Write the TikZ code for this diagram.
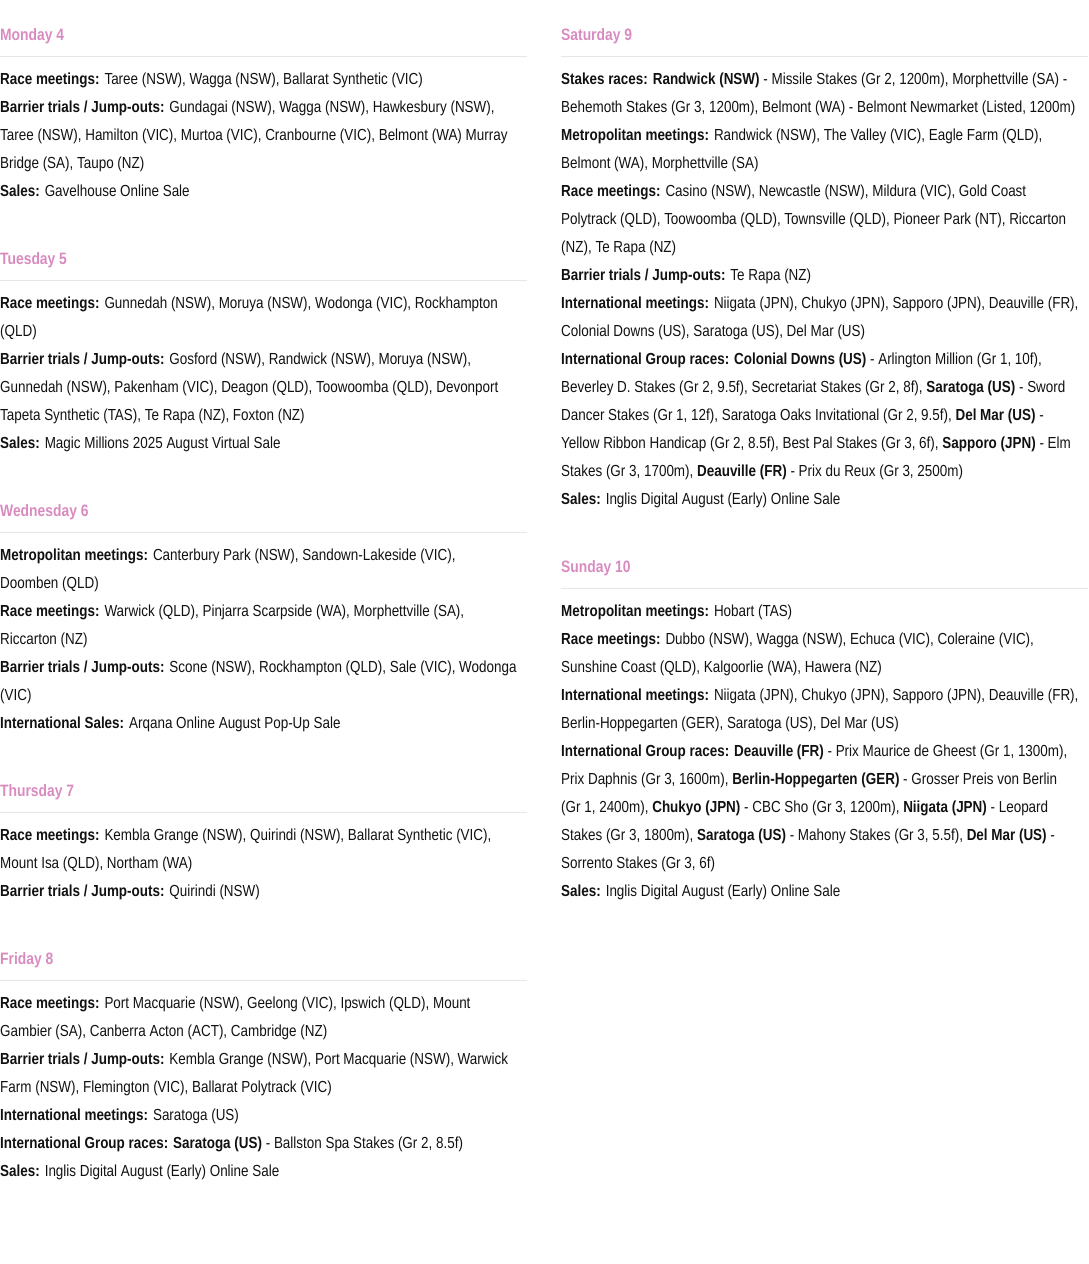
\documentclass[tikz,border=0pt]{standalone}
\usepackage{fontspec}
\setmainfont{Liberation Sans}[FakeStretch=0.84]
\definecolor{pink}{HTML}{D98BC0}
\definecolor{txt}{HTML}{111111}
\definecolor{rule}{HTML}{E6E6E6}
\newcounter{ln}
\newcommand{\Ln}[3]{\stepcounter{ln}\node[line] (l\theln) at (#1,#2) {#3};}
\newcommand{\Hd}[3]{\stepcounter{ln}\node[head] (l\theln) at (#1,#2) {#3};}
\newcommand{\B}[1]{{\bfseries #1}}
\begin{document}
\begin{tikzpicture}[x=1pt,y=-1pt,
  line/.style={anchor=base west,inner sep=0pt,font=\fontsize{16}{18}\selectfont,text=txt},
  head/.style={anchor=base west,inner sep=0pt,font=\fontsize{16.5}{18}\selectfont\bfseries,text=pink},
  sep/.style={draw=rule,line width=0.8pt}]
\useasboundingbox (0,0) rectangle (1088,1264);
\draw[sep] (0,56)--(527,56); \draw[sep] (0,280)--(527,280); \draw[sep] (0,532)--(527,532);
\draw[sep] (0,812)--(527,812); \draw[sep] (0,980)--(527,980);
\draw[sep] (561,56)--(1088,56); \draw[sep] (561,588)--(1088,588);
% Monday
\Hd{0}{40}{Monday 4}
\Ln{0}{84}{\B{Race meetings:} Taree (NSW), Wagga (NSW), Ballarat Synthetic (VIC)}
\Ln{0}{112}{\B{Barrier trials / Jump-outs:} Gundagai (NSW), Wagga (NSW), Hawkesbury (NSW),}
\Ln{0}{140}{Taree (NSW), Hamilton (VIC), Murtoa (VIC), Cranbourne (VIC), Belmont (WA) Murray}
\Ln{0}{168}{Bridge (SA), Taupo (NZ)}
\Ln{0}{196}{\B{Sales:} Gavelhouse Online Sale}
% Tuesday
\Hd{0}{264}{Tuesday 5}
\Ln{0}{308}{\B{Race meetings:} Gunnedah (NSW), Moruya (NSW), Wodonga (VIC), Rockhampton}
\Ln{0}{336}{(QLD)}
\Ln{0}{364}{\B{Barrier trials / Jump-outs:} Gosford (NSW), Randwick (NSW), Moruya (NSW),}
\Ln{0}{392}{Gunnedah (NSW), Pakenham (VIC), Deagon (QLD), Toowoomba (QLD), Devonport}
\Ln{0}{420}{Tapeta Synthetic (TAS), Te Rapa (NZ), Foxton (NZ)}
\Ln{0}{448}{\B{Sales:} Magic Millions 2025 August Virtual Sale}
% Wednesday
\Hd{0}{516}{Wednesday 6}
\Ln{0}{560}{\B{Metropolitan meetings:} Canterbury Park (NSW), Sandown-Lakeside (VIC),}
\Ln{0}{588}{Doomben (QLD)}
\Ln{0}{616}{\B{Race meetings:} Warwick (QLD), Pinjarra Scarpside (WA), Morphettville (SA),}
\Ln{0}{644}{Riccarton (NZ)}
\Ln{0}{672}{\B{Barrier trials / Jump-outs:} Scone (NSW), Rockhampton (QLD), Sale (VIC), Wodonga}
\Ln{0}{700}{(VIC)}
\Ln{0}{728}{\B{International Sales:} Arqana Online August Pop-Up Sale}
% Thursday
\Hd{0}{796}{Thursday 7}
\Ln{0}{840}{\B{Race meetings:} Kembla Grange (NSW), Quirindi (NSW), Ballarat Synthetic (VIC),}
\Ln{0}{868}{Mount Isa (QLD), Northam (WA)}
\Ln{0}{896}{\B{Barrier trials / Jump-outs:} Quirindi (NSW)}
% Friday
\Hd{0}{964}{Friday 8}
\Ln{0}{1008}{\B{Race meetings:} Port Macquarie (NSW), Geelong (VIC), Ipswich (QLD), Mount}
\Ln{0}{1036}{Gambier (SA), Canberra Acton (ACT), Cambridge (NZ)}
\Ln{0}{1064}{\B{Barrier trials / Jump-outs:} Kembla Grange (NSW), Port Macquarie (NSW), Warwick}
\Ln{0}{1092}{Farm (NSW), Flemington (VIC), Ballarat Polytrack (VIC)}
\Ln{0}{1120}{\B{International meetings:} Saratoga (US)}
\Ln{0}{1148}{\B{International Group races: Saratoga (US)} - Ballston Spa Stakes (Gr 2, 8.5f)}
\Ln{0}{1176}{\B{Sales:} Inglis Digital August (Early) Online Sale}
% Saturday
\Hd{561}{40}{Saturday 9}
\Ln{561}{84}{\B{Stakes races: Randwick (NSW)} - Missile Stakes (Gr 2, 1200m), Morphettville (SA) -}
\Ln{561}{112}{Behemoth Stakes (Gr 3, 1200m), Belmont (WA) - Belmont Newmarket (Listed, 1200m)}
\Ln{561}{140}{\B{Metropolitan meetings:} Randwick (NSW), The Valley (VIC), Eagle Farm (QLD),}
\Ln{561}{168}{Belmont (WA), Morphettville (SA)}
\Ln{561}{196}{\B{Race meetings:} Casino (NSW), Newcastle (NSW), Mildura (VIC), Gold Coast}
\Ln{561}{224}{Polytrack (QLD), Toowoomba (QLD), Townsville (QLD), Pioneer Park (NT), Riccarton}
\Ln{561}{252}{(NZ), Te Rapa (NZ)}
\Ln{561}{280}{\B{Barrier trials / Jump-outs:} Te Rapa (NZ)}
\Ln{561}{308}{\B{International meetings:} Niigata (JPN), Chukyo (JPN), Sapporo (JPN), Deauville (FR),}
\Ln{561}{336}{Colonial Downs (US), Saratoga (US), Del Mar (US)}
\Ln{561}{364}{\B{International Group races: Colonial Downs (US)} - Arlington Million (Gr 1, 10f),}
\Ln{561}{392}{Beverley D. Stakes (Gr 2, 9.5f), Secretariat Stakes (Gr 2, 8f), \B{Saratoga (US)} - Sword}
\Ln{561}{420}{Dancer Stakes (Gr 1, 12f), Saratoga Oaks Invitational (Gr 2, 9.5f), \B{Del Mar (US)} -}
\Ln{561}{448}{Yellow Ribbon Handicap (Gr 2, 8.5f), Best Pal Stakes (Gr 3, 6f), \B{Sapporo (JPN)} - Elm}
\Ln{561}{476}{Stakes (Gr 3, 1700m), \B{Deauville (FR)} - Prix du Reux (Gr 3, 2500m)}
\Ln{561}{504}{\B{Sales:} Inglis Digital August (Early) Online Sale}
% Sunday
\Hd{561}{572}{Sunday 10}
\Ln{561}{616}{\B{Metropolitan meetings:} Hobart (TAS)}
\Ln{561}{644}{\B{Race meetings:} Dubbo (NSW), Wagga (NSW), Echuca (VIC), Coleraine (VIC),}
\Ln{561}{672}{Sunshine Coast (QLD), Kalgoorlie (WA), Hawera (NZ)}
\Ln{561}{700}{\B{International meetings:} Niigata (JPN), Chukyo (JPN), Sapporo (JPN), Deauville (FR),}
\Ln{561}{728}{Berlin-Hoppegarten (GER), Saratoga (US), Del Mar (US)}
\Ln{561}{756}{\B{International Group races: Deauville (FR)} - Prix Maurice de Gheest (Gr 1, 1300m),}
\Ln{561}{784}{Prix Daphnis (Gr 3, 1600m), \B{Berlin-Hoppegarten (GER)} - Grosser Preis von Berlin}
\Ln{561}{812}{(Gr 1, 2400m), \B{Chukyo (JPN)} - CBC Sho (Gr 3, 1200m), \B{Niigata (JPN)} - Leopard}
\Ln{561}{840}{Stakes (Gr 3, 1800m), \B{Saratoga (US)} - Mahony Stakes (Gr 3, 5.5f), \B{Del Mar (US)} -}
\Ln{561}{868}{Sorrento Stakes (Gr 3, 6f)}
\Ln{561}{896}{\B{Sales:} Inglis Digital August (Early) Online Sale}
\end{tikzpicture}
\end{document}
